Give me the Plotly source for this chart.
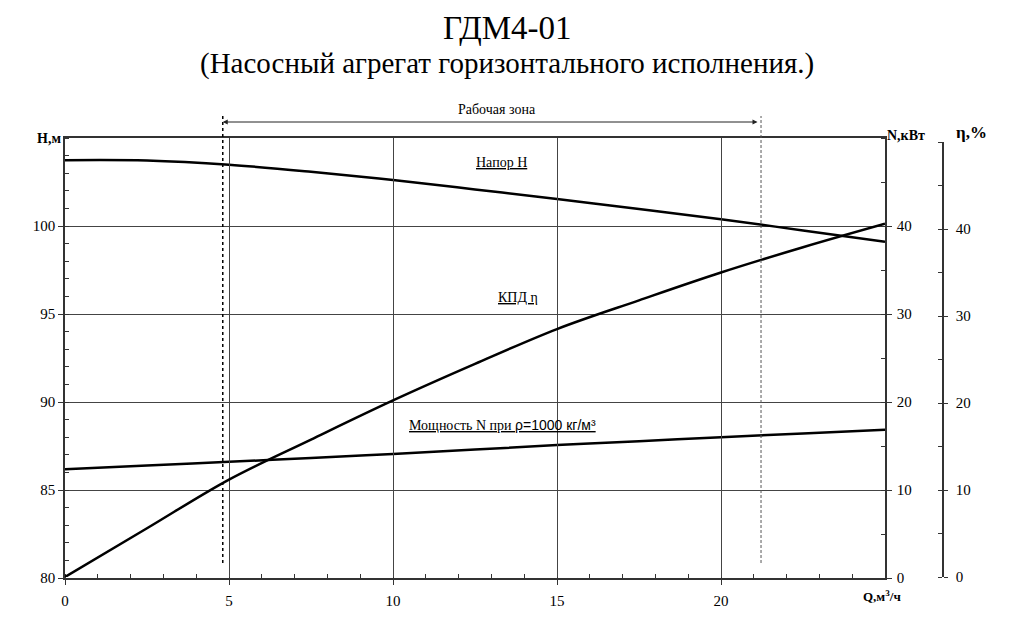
import plotly.graph_objects as go

# ---- data ----
Q = [0, 2.5, 5, 7.5, 10, 12.5, 15, 17.5, 20, 22.5, 25]
H = [103.74, 103.72, 103.48, 103.08, 102.61, 102.08, 101.53, 100.97, 100.38, 99.75, 99.11]
N = [12.35, 12.77, 13.2, 13.65, 14.1, 14.6, 15.1, 15.55, 16.0, 16.43, 16.85]
ETA = [0, 5.6, 11.2, 15.8, 20.3, 24.5, 28.5, 31.8, 35.0, 37.9, 40.6]

Q_TICKS = [0, 5, 10, 15, 20]
H_TICKS = [80, 85, 90, 95, 100]
N_TICKS = [0, 10, 20, 30, 40]
ETA_TICKS = [0, 10, 20, 30, 40]
ZONE = [4.81, 21.22]

TITLE = "ГДМ4-01"
SUBTITLE = "(Насосный агрегат горизонтального исполнения.)"

# ---- layout geometry ----
W, HGT = 1009, 626
ML, MR, MT, MB = 65, 19, 138, 48
PW = W - ML - MR
PH = HGT - MT - MB


def px_x(p):
    return (p - ML) / PW


def px_y(p):
    return (HGT - MB - p) / PH


XD = px_x(885)
SERIF = "Liberation Serif"
AX = "#333333"
GRID = "#444444"
tf = dict(family=SERIF, size=15, color="black")

fig = go.Figure()
fig.add_trace(go.Scatter(x=Q, y=H, mode="lines", yaxis="y",
                         line=dict(color="black", width=2.5, shape="spline"),
                         showlegend=False, hoverinfo="skip"))
fig.add_trace(go.Scatter(x=Q, y=N, mode="lines", yaxis="y2",
                         line=dict(color="black", width=2.5, shape="spline"),
                         showlegend=False, hoverinfo="skip"))
fig.add_trace(go.Scatter(x=Q, y=ETA, mode="lines", yaxis="y3",
                         line=dict(color="black", width=2.5, shape="spline"),
                         showlegend=False, hoverinfo="skip"))
fig.add_trace(go.Scatter(x=Q, y=ETA, mode="lines", yaxis="y4",
                         line=dict(color="rgba(0,0,0,0)", width=0),
                         showlegend=False, hoverinfo="skip"))

eta_dom = [px_y(577), px_y(142)]

fig.update_layout(
    width=W, height=HGT,
    margin=dict(l=ML, r=MR, t=MT, b=MB, pad=0),
    paper_bgcolor="white", plot_bgcolor="rgba(0,0,0,0)",
    font=dict(family=SERIF, size=15, color="black"),
    xaxis=dict(domain=[0, XD], range=[0, 25], tickvals=Q_TICKS,
               ticks="outside", ticklen=5, tickcolor=AX, tickwidth=1.2,
               showline=True, linecolor=AX, linewidth=1.5, mirror=True,
               showgrid=True, gridcolor=GRID, gridwidth=1.3, zeroline=False,
               minor=dict(dtick=1, tick0=0, ticks="inside", ticklen=4,
                          tickcolor=AX, tickwidth=1, showgrid=False),
               tickfont=tf, ticklabelstandoff=3, fixedrange=True),
    yaxis=dict(range=[80, 105], tickvals=H_TICKS,
               ticks="outside", ticklen=5, tickcolor=AX, tickwidth=1.2,
               showline=True, linecolor=AX, linewidth=1.5,
               showgrid=True, gridcolor=GRID, gridwidth=1.3, zeroline=False,
               minor=dict(dtick=1, tick0=80, ticks="inside", ticklen=4,
                          tickcolor=AX, tickwidth=1, showgrid=False),
               tickfont=tf, ticklabelstandoff=0, fixedrange=True),
    yaxis2=dict(overlaying="y", side="right", anchor="x", range=[0, 50],
                tickvals=N_TICKS, ticks="outside", ticklen=5, tickcolor=AX,
                tickwidth=1.2, showline=True, linecolor=AX, linewidth=1.5,
                showgrid=False, zeroline=False,
                minor=dict(dtick=5, tick0=0, ticks="inside", ticklen=4,
                           tickcolor=AX, tickwidth=1, showgrid=False),
                tickfont=tf, ticklabelstandoff=2, fixedrange=True),
    yaxis3=dict(domain=eta_dom, anchor="free", position=px_x(943), side="right",
                range=[0, 50], tickvals=ETA_TICKS,
                ticks="outside", ticklen=4, tickcolor=AX, tickwidth=1.2,
                showline=True, linecolor=AX, linewidth=1.5,
                showgrid=False, zeroline=False,
                minor=dict(dtick=5, tick0=0, ticks="inside", ticklen=4,
                           tickcolor=AX, tickwidth=1, showgrid=False),
                tickfont=tf, ticklabelstandoff=5, fixedrange=True),
    yaxis4=dict(overlaying="y3", anchor="free", position=px_x(943), side="right",
                range=[0, 50], tickvals=ETA_TICKS + [50], ticks="inside", ticklen=4,
                tickcolor=AX, tickwidth=1.2, showticklabels=False,
                showline=False, showgrid=False, zeroline=False, fixedrange=True),
)

# working zone vertical lines
fig.add_shape(type="line", xref="x", yref="paper", x0=ZONE[0], x1=ZONE[0],
              y0=px_y(563), y1=px_y(116), line=dict(color="black", width=1.5, dash="dot"))
fig.add_shape(type="line", xref="x", yref="paper", x0=ZONE[1], x1=ZONE[1],
              y0=px_y(563), y1=px_y(116), line=dict(color="#555555", width=1, dash="3px,2px"))

# double-headed working-zone arrow
fig.add_annotation(x=ZONE[0], y=px_y(122), xref="x", yref="paper",
                   ax=ZONE[1], ay=0, axref="x", ayref="pixel", text=" ",
                   showarrow=True, arrowhead=2, arrowside="end+start",
                   arrowsize=1, arrowwidth=1, arrowcolor="#222222")
fig.add_annotation(x=px_x(497), y=px_y(110), xref="paper", yref="paper",
                   xanchor="center", yanchor="middle",
                   text="Рабочая зона", showarrow=False,
                   font=dict(family=SERIF, size=14, color="black"))

# titles
fig.add_annotation(x=px_x(507), y=px_y(28), xref="paper", yref="paper",
                   xanchor="center", yanchor="middle",
                   text=TITLE, showarrow=False,
                   font=dict(family=SERIF, size=33, color="black"))
fig.add_annotation(x=px_x(507), y=px_y(64), xref="paper", yref="paper",
                   xanchor="center", yanchor="middle",
                   text=SUBTITLE, showarrow=False,
                   font=dict(family=SERIF, size=29, color="black"))

# axis labels
fig.add_annotation(x=px_x(35), y=px_y(138), xref="paper", yref="paper",
                   xanchor="left", yanchor="middle",
                   text="<b>H,м</b>", showarrow=False, font=dict(family=SERIF, size=14))
fig.add_annotation(x=px_x(885), y=px_y(135), xref="paper", yref="paper",
                   xanchor="left", yanchor="middle",
                   text="<b>N,кВт</b>", showarrow=False, font=dict(family=SERIF, size=14))
fig.add_annotation(x=px_x(954), y=px_y(133), xref="paper", yref="paper",
                   xanchor="left", yanchor="middle",
                   text="<b>η,%</b>", showarrow=False, font=dict(family=SERIF, size=17))
fig.add_annotation(x=px_x(861), y=px_y(596), xref="paper", yref="paper",
                   xanchor="left", yanchor="middle",
                   text="<b>Q,м<sup>3</sup>/ч</b>", showarrow=False, font=dict(family=SERIF, size=13))

# curve labels
fig.add_annotation(x=13.31, y=103.58, xref="x", yref="y", text="<u>Напор Н</u>",
                   showarrow=False, font=dict(family=SERIF, size=14))
fig.add_annotation(x=13.81, y=95.91, xref="x", yref="y", text="<u>КПД η</u>",
                   showarrow=False, font=dict(family=SERIF, size=14))
fig.add_annotation(x=13.34, y=88.69, xref="x", yref="y",
                   text="<u>Мощность N при <span style='font-family:Liberation Sans'>ρ=1000 кг/м³</span></u>",
                   showarrow=False, font=dict(family=SERIF, size=14))

fig.write_html("out.html")
